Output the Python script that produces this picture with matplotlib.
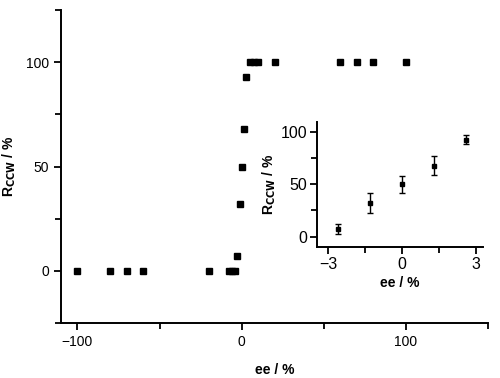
import matplotlib
matplotlib.use('AGG')
import matplotlib.pyplot as plt
from matplotlib.ticker import MultipleLocator

plt.rcParams['font.family'] = ['Liberation Sans', 'DejaVu Sans']

# main data: ee vs R_ccw
ee = [-100, -80, -70, -60, -20, -8, -6, -4, -2.6, -1.3, 0, 1.3, 2.6, 5, 7.5, 10, 20, 60, 70, 80, 100]
r_ccw = [0, 0, 0, 0, 0, 0, 0, 0, 7, 32, 50, 68, 93, 100, 100, 100, 100, 100, 100, 100, 100]

# inset data (low ee region with error bars)
ee_in = [-2.6, -1.3, 0, 1.3, 2.6]
r_in = [7, 32, 50, 68, 93]
err_in = [5, 9.5, 8, 9, 4]


def style_axes(ax, fs, pad):
    ax.spines['top'].set_visible(False)
    ax.spines['right'].set_visible(False)
    for s in ('left', 'bottom'):
        ax.spines[s].set_linewidth(1.4)
    ax.tick_params(which='major', direction='out', length=5, width=1.3,
                   labelsize=fs, pad=pad)
    ax.tick_params(which='minor', direction='out', length=4, width=1.3)


fig = plt.figure(figsize=(5, 3.78), dpi=100)

ax = fig.add_axes([0.122, 0.1455, 0.854, 0.828])
ax.plot(ee, r_ccw, 's', color='black', markersize=5)
ax.set_xlim(-110, 150)
ax.set_ylim(-25, 125)
ax.xaxis.set_major_locator(MultipleLocator(100))
ax.xaxis.set_minor_locator(MultipleLocator(50))
ax.yaxis.set_major_locator(MultipleLocator(50))
ax.yaxis.set_minor_locator(MultipleLocator(25))
ax.set_yticks([0, 50, 100])
style_axes(ax, 10, 3.5)
ax.set_xlabel('ee / %', fontsize=10, fontweight='bold', labelpad=10)
ax.set_ylabel(r'R$_{\mathbf{CCW}}$ / %', fontsize=10, fontweight='bold', labelpad=6)

ins = fig.add_axes([0.634, 0.3466, 0.332, 0.331])
ins.errorbar(ee_in, r_in, yerr=err_in, fmt='s', color='black', markersize=3,
             elinewidth=1, capsize=2, capthick=1)
ins.set_xlim(-3.45, 3.3)
ins.set_ylim(-10, 110)
ins.xaxis.set_major_locator(MultipleLocator(3))
ins.xaxis.set_minor_locator(MultipleLocator(1.5))
ins.yaxis.set_major_locator(MultipleLocator(50))
ins.yaxis.set_minor_locator(MultipleLocator(25))
style_axes(ins, 11.5, 2)
ins.set_xlabel('ee / %', fontsize=10, fontweight='bold', labelpad=3)
ins.set_ylabel(r'R$_{\mathbf{CCW}}$ / %', fontsize=10, fontweight='bold', labelpad=2)

fig.savefig('out.png', dpi=100)
